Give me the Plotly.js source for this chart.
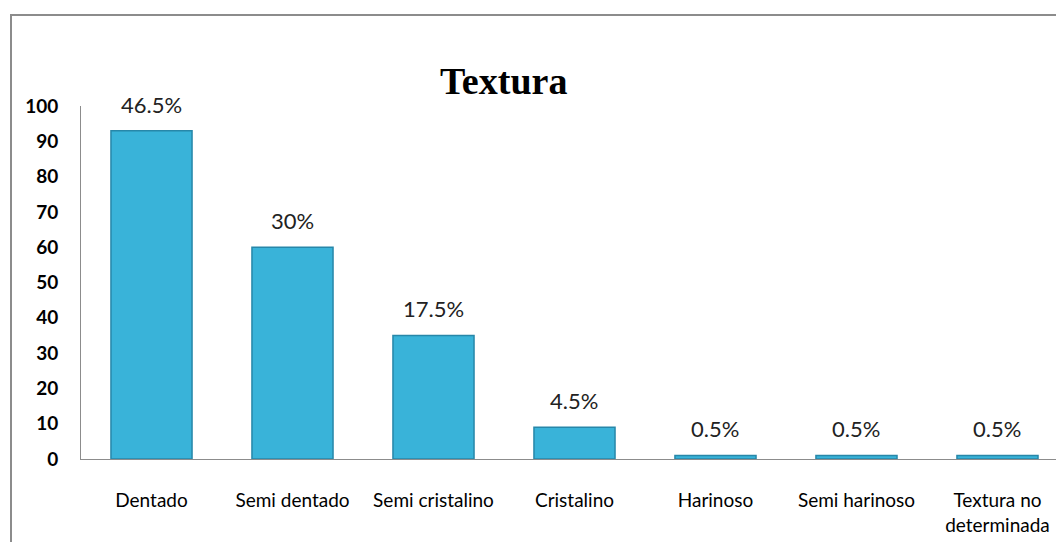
<!DOCTYPE html>
<html>
<head>
<meta charset="utf-8">
<script src="https://cdn.plot.ly/plotly-3.0.1.min.js"></script>
<style>
html,body{margin:0;padding:0;background:#fff;overflow:hidden;}
#frame{position:absolute;left:10px;top:14px;width:1100px;height:600px;border:2px solid #8c8c8c;}
#chart{position:absolute;left:0;top:0;width:1056px;height:542px;}
</style>
</head>
<body>
<div id="frame"></div>
<div id="chart"></div>
<script>
const categories = ["Dentado","Semi dentado","Semi cristalino","Cristalino","Harinoso","Semi harinoso","Textura no<br>determinada"];
const counts = [93, 60, 35, 9, 1, 1, 1];
const percentLabels = ["46.5%","30%","17.5%","4.5%","0.5%","0.5%","0.5%"];
const yTicks = [0,10,20,30,40,50,60,70,80,90,100];

const trace = {
  type: 'bar',
  x: categories,
  y: counts,
  width: 0.575,
  marker: {color: '#39b3d9', line: {color: '#2787a9', width: 1.5}},
  hoverinfo: 'none'
};

const annotations = categories.map((c, i) => ({
  x: c, y: counts[i], xref: 'x', yref: 'y',
  text: percentLabels[i], showarrow: false,
  yanchor: 'bottom', yshift: 11,
  font: {family: 'Lato, sans-serif', size: 22, color: '#222'}
}));

const layout = {
  width: 1056, height: 542,
  margin: {l: 81, r: 0, t: 106, b: 83, pad: 0},
  paper_bgcolor: 'rgba(0,0,0,0)',
  plot_bgcolor: 'rgba(0,0,0,0)',
  showlegend: false,
  title: {
    text: '<b>Textura</b>',
    font: {family: 'Liberation Serif, serif', size: 38, color: '#000'},
    x: 0.477, xanchor: 'center', y: 0.852, yanchor: 'middle'
  },
  xaxis: {
    type: 'category',
    range: [-0.5, 6.415],
    showline: true, linecolor: '#8c8c8c', linewidth: 1,
    showgrid: false, zeroline: false,
    ticks: '', ticklabelstandoff: 24,
    tickfont: {family: 'Lato, sans-serif', size: 19, color: '#000'}
  },
  yaxis: {
    range: [0, 100],
    tickvals: yTicks,
    ticktext: yTicks.map(String),
    showline: true, linecolor: '#8c8c8c', linewidth: 1,
    showgrid: false, zeroline: false,
    ticks: '', ticklabelstandoff: 18,
    tickfont: {family: 'Lato, sans-serif', size: 19, color: '#000', weight: 'bold'}
  },
  annotations: annotations
};

Plotly.newPlot('chart', [trace], layout, {displayModeBar: false, staticPlot: true});
</script>
</body>
</html>
